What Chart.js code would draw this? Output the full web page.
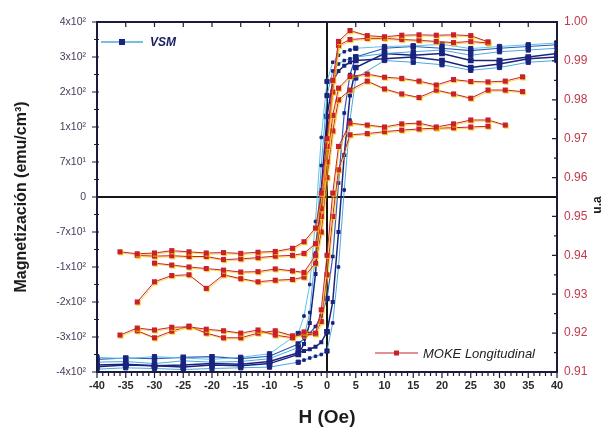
<!DOCTYPE html>
<html>
<head>
<meta charset="utf-8">
<title>VSM / MOKE</title>
<script src="https://cdn.jsdelivr.net/npm/chart.js@4.4.1/dist/chart.umd.min.js"></script>
<style>
  body { margin: 0; background: #fff; }
  #wrap { width: 611px; height: 435px; }
</style>
</head>
<body>
<div id="wrap"><canvas id="hystChart" width="611" height="435"></canvas></div>
<script>
// --- etiquetas del eje izquierdo (posiciones -5..5) ---
const mLabels = ['-4x10²', '-3x10²', '-2x10²', '-1x10²', '-7x10¹', '0', '7x10¹', '1x10²', '2x10²', '3x10²', '4x10²'];

// --- VSM (eje izquierdo) ---
const vsmH = [-40, -35, -30, -25, -20, -15, -10, -5, -4, -3, -2, -1, 0, 1, 2, 3, 4, 5, 10, 15, 20, 25, 30, 35, 40];
const vsmDown1 = [-4.72, -4.70, -4.76, -4.68, -4.72, -4.70, -4.62, -4.30, -4.00, -3.30, -1.60, 0.90, 2.90, 3.60, 3.80, 3.90, 3.95, 4.00, 4.10, 4.15, 4.20, 4.05, 4.15, 4.20, 4.25];
const vsmDown2 = [-4.85, -4.80, -4.82, -4.86, -4.80, -4.82, -4.76, -4.50, -4.20, -3.60, -2.20, 0.20, 2.30, 3.30, 3.60, 3.75, 3.85, 3.90, 3.95, 4.00, 3.90, 3.70, 3.80, 3.95, 4.00];
const vsmDown3 = [-4.58, -4.62, -4.56, -4.60, -4.64, -4.58, -4.48, -3.90, -3.40, -2.50, -0.70, 1.70, 3.30, 3.85, 4.05, 4.15, 4.20, 4.25, 4.30, 4.32, 4.36, 4.24, 4.30, 4.35, 4.40];
const vsmUp1 = [-4.80, -4.78, -4.82, -4.80, -4.76, -4.78, -4.70, -4.45, -4.40, -4.35, -4.28, -4.15, -3.85, -3.00, -1.00, 1.20, 2.90, 3.70, 4.10, 4.05, 4.10, 3.90, 3.90, 4.00, 4.10];
const vsmUp2 = [-4.92, -4.88, -4.90, -4.93, -4.90, -4.88, -4.86, -4.72, -4.66, -4.60, -4.55, -4.50, -4.40, -3.60, -2.00, 0.20, 2.20, 3.40, 3.90, 3.85, 3.78, 3.62, 3.70, 3.85, 3.90];
const vsmUp3 = [-4.64, -4.60, -4.62, -4.58, -4.56, -4.62, -4.55, -4.20, -4.05, -3.90, -3.70, -3.40, -2.90, -1.70, 0.40, 2.40, 3.50, 4.00, 4.25, 4.30, 4.25, 4.18, 4.25, 4.30, 4.35];

// --- MOKE longitudinal (eje derecho, u.a) ---
const mokeH = [-36, -33, -30, -27, -24, -21, -18, -15, -12, -9, -6, -4, -2, -1, 0, 1, 2, 4, 7, 10, 13, 16, 19, 22, 25, 28, 31, 34];
const mokeTopA = [0.9409, 0.9404, 0.9406, 0.9412, 0.9409, 0.9406, 0.9407, 0.9405, 0.9408, 0.9410, 0.9418, 0.9435, 0.9470, 0.9560, 0.9700, 0.9850, 0.9950, 0.9978, 0.9965, 0.9962, 0.9966, 0.9967, 0.9966, 0.9967, 0.9965, 0.9949, null, null];
const mokeTopB = [null, 0.9400, 0.9398, 0.9399, 0.9397, 0.9397, 0.9389, 0.9391, 0.9394, 0.9398, 0.9400, 0.9405, 0.9430, 0.9520, 0.9680, 0.9820, 0.9940, 0.9955, 0.9958, 0.9958, 0.9955, 0.9953, 0.9950, 0.9947, 0.9950, 0.9946, null, null];
const mokeMidA = [null, null, 0.9380, 0.9375, 0.9370, 0.9366, 0.9362, 0.9357, 0.9358, 0.9365, 0.9360, 0.9356, 0.9400, 0.9500, 0.9640, 0.9760, 0.9830, 0.9860, 0.9866, 0.9858, 0.9855, 0.9848, 0.9838, 0.9852, 0.9847, 0.9846, 0.9848, 0.9859];
const mokeMidB = [null, 0.9280, 0.9332, 0.9348, 0.9350, 0.9315, 0.9350, 0.9340, 0.9332, 0.9336, 0.9338, 0.9344, 0.9380, 0.9460, 0.9600, 0.9720, 0.9800, 0.9825, 0.9848, 0.9828, 0.9815, 0.9806, 0.9825, 0.9815, 0.9804, 0.9825, 0.9825, 0.9821];
const mokeLowA = [0.9195, 0.9213, 0.9208, 0.9215, 0.9216, 0.9210, 0.9206, 0.9200, 0.9208, 0.9195, 0.9188, 0.9203, 0.9200, 0.9260, 0.9400, 0.9560, 0.9680, 0.9740, 0.9735, 0.9730, 0.9738, 0.9740, 0.9730, 0.9738, 0.9748, 0.9748, 0.9735, null];
const mokeLowB = [null, 0.9206, 0.9188, 0.9205, 0.9218, 0.9200, 0.9188, 0.9188, 0.9200, 0.9206, 0.9193, 0.9195, 0.9198, 0.9230, 0.9350, 0.9500, 0.9620, 0.9710, 0.9713, 0.9718, 0.9722, 0.9725, 0.9727, 0.9728, 0.9730, 0.9732, null, null];

const NAVY = '#1a237e';
const RED = '#c8202e';

function pairs(xs, ys) {
    return xs.map((x, i) => ({ x: x, y: ys[i] }));
}

function vsmSet(vals, lineColor, width) {
    return {
        data: pairs(vsmH, vals),
        yAxisID: 'y',
        borderColor: lineColor,
        borderWidth: width,
        pointStyle: 'rect',
        // marcadores grandes cada 5 Oe, pequenos en la transicion
        pointRadius: (c) => (vsmH[c.dataIndex] % 5 === 0 ? 3 : 1.8),
        pointBackgroundColor: NAVY,
        pointBorderColor: NAVY,
        order: 2
    };
}

function mokeSet(vals) {
    return {
        data: pairs(mokeH, vals),
        yAxisID: 'y2',
        borderColor: RED,
        borderWidth: 1,
        pointStyle: 'rect',
        pointRadius: 3.6,
        pointBorderWidth: 0,
        pointBackgroundColor: RED,
        pointBorderColor: RED,
        spanGaps: true,
        order: 1
    };
}

// sombra amarilla del escaneo en las curvas MOKE
const scanShadow = {
    id: 'scanShadow',
    beforeDatasetDraw(chart, args) {
        if (args.meta.yAxisID !== 'y2') return;
        const ctx = chart.ctx;
        ctx.save();
        ctx.shadowColor = 'rgba(245, 205, 0, 0.7)';
        ctx.shadowOffsetX = 1;
        ctx.shadowOffsetY = 1.2;
    },
    afterDatasetDraw(chart, args) {
        if (args.meta.yAxisID !== 'y2') return;
        chart.ctx.restore();
    }
};

// marco, marcas menores, leyendas y titulo derecho
const framePlugin = {
    id: 'frame',
    afterDraw(chart) {
        const ctx = chart.ctx;
        const a = chart.chartArea;
        const sx = chart.scales.x, sy = chart.scales.y, sy2 = chart.scales.y2;
        ctx.save();
        ctx.strokeStyle = '#1b1b3a';
        ctx.lineWidth = 2;
        ctx.strokeRect(a.left, a.top, a.right - a.left, a.bottom - a.top);

        ctx.lineWidth = 1.2;
        ctx.beginPath();
        for (let h = -40; h <= 40; h++) {
            const px = sx.getPixelForValue(h);
            const len = h % 5 === 0 ? 6 : 4;
            ctx.moveTo(px, a.bottom);
            ctx.lineTo(px, a.bottom + len);
        }
        for (let h = -35; h <= 35; h += 5) {
            const px = sx.getPixelForValue(h);
            ctx.moveTo(px, a.top);
            ctx.lineTo(px, a.top + 5);
        }
        for (let v = -5; v <= 5; v += 0.5) {
            const py = sy.getPixelForValue(v);
            const len = Number.isInteger(v) ? 5 : 3;
            ctx.moveTo(a.left - len, py);
            ctx.lineTo(a.left + 2, py);
        }
        for (let k = 0; k <= 18; k++) {
            const py = sy2.getPixelForValue(0.91 + k * 0.005);
            const len = k % 2 === 0 ? 5 : 3;
            ctx.moveTo(a.right - len, py);
            ctx.lineTo(a.right, py);
        }
        ctx.stroke();

        // leyenda VSM (arriba izquierda)
        let ly = a.top + 20;
        ctx.lineWidth = 1.5;
        ctx.strokeStyle = '#4aa8dc';
        ctx.beginPath();
        ctx.moveTo(a.left + 4, ly);
        ctx.lineTo(a.left + 46, ly);
        ctx.stroke();
        ctx.fillStyle = NAVY;
        ctx.fillRect(a.left + 22, ly - 3, 6, 6);
        ctx.font = 'italic bold 12px "Liberation Sans", Arial, sans-serif';
        ctx.textBaseline = 'middle';
        ctx.fillStyle = '#1a2060';
        ctx.fillText('VSM', a.left + 53, ly + 1);

        // leyenda MOKE (abajo derecha)
        ly = a.bottom - 19;
        ctx.strokeStyle = RED;
        ctx.lineWidth = 1.2;
        ctx.beginPath();
        ctx.moveTo(a.right - 182, ly);
        ctx.lineTo(a.right - 139, ly);
        ctx.stroke();
        ctx.fillStyle = RED;
        ctx.fillRect(a.right - 163, ly - 2.5, 5, 5);
        ctx.font = 'italic 13px "Liberation Sans", Arial, sans-serif';
        ctx.fillStyle = '#222';
        ctx.fillText('MOKE Longitudinal', a.right - 134, ly + 1);

        // titulo del eje derecho, leido de abajo hacia arriba
        ctx.translate(chart.width - 13, (a.top + a.bottom) / 2 + 8);
        ctx.rotate(-Math.PI / 2);
        ctx.textAlign = 'center';
        ctx.font = 'bold 12px "Liberation Sans", Arial, sans-serif';
        ctx.fillStyle = '#1c1c1c';
        ctx.fillText('u.a', 0, 0);
        ctx.restore();
    }
};

const zeroLine = (c) => (c.tick && c.tick.value === 0 ? '#151515' : 'rgba(0,0,0,0)');

new Chart(document.getElementById('hystChart'), {
    type: 'line',
    data: {
        datasets: [
            vsmSet(vsmDown1, '#4aa8dc', 1),
            vsmSet(vsmDown2, NAVY, 1.5),
            vsmSet(vsmDown3, '#5cc0e8', 1),
            vsmSet(vsmUp1, NAVY, 1.5),
            vsmSet(vsmUp2, '#4aa8dc', 1),
            vsmSet(vsmUp3, '#2c5cb8', 1.2),
            mokeSet(mokeTopA),
            mokeSet(mokeTopB),
            mokeSet(mokeMidA),
            mokeSet(mokeMidB),
            mokeSet(mokeLowA),
            mokeSet(mokeLowB)
        ]
    },
    plugins: [scanShadow, framePlugin],
    options: {
        responsive: false,
        animation: false,
        layout: { padding: { top: 22, left: 0, right: 0, bottom: 0 } },
        elements: { line: { tension: 0 } },
        plugins: { legend: { display: false }, tooltip: { enabled: false } },
        scales: {
            x: {
                type: 'linear',
                min: -40, max: 40,
                afterFit: (s) => { s.height = 63; },
                ticks: { stepSize: 5, padding: 7, color: '#2a2a2a', font: { family: 'Liberation Sans', size: 11, weight: 'bold' } },
                grid: { drawTicks: false, color: zeroLine, lineWidth: 2 },
                border: { display: false },
                title: { display: true, text: 'H (Oe)', color: '#1c1c1c', padding: { top: 0, bottom: 6 },
                         font: { family: 'Liberation Sans', size: 19, weight: 'bold' } }
            },
            y: {
                position: 'left',
                min: -5, max: 5,
                afterFit: (s) => { s.width = 97; },
                ticks: { stepSize: 1, padding: 11, color: '#4a3a5a', font: { family: 'Liberation Sans', size: 10.5 },
                         callback: (v) => mLabels[v + 5] },
                grid: { drawTicks: false, color: zeroLine, lineWidth: 2 },
                border: { display: false },
                title: { display: true, text: 'Magnetización (emu/cm³)', color: '#1c1c1c', padding: { top: 12, bottom: 0 },
                         font: { family: 'Liberation Sans', size: 16, weight: 'bold' } }
            },
            y2: {
                position: 'right',
                min: 0.91, max: 1.0,
                afterFit: (s) => { s.width = 54; },
                ticks: { stepSize: 0.01, padding: 7, color: '#c23a4a', font: { family: 'Liberation Sans', size: 12 },
                         callback: (v) => v.toFixed(2) },
                grid: { display: false, drawTicks: false },
                border: { display: false },
                title: { display: false }
            }
        }
    }
});
</script>
</body>
</html>
